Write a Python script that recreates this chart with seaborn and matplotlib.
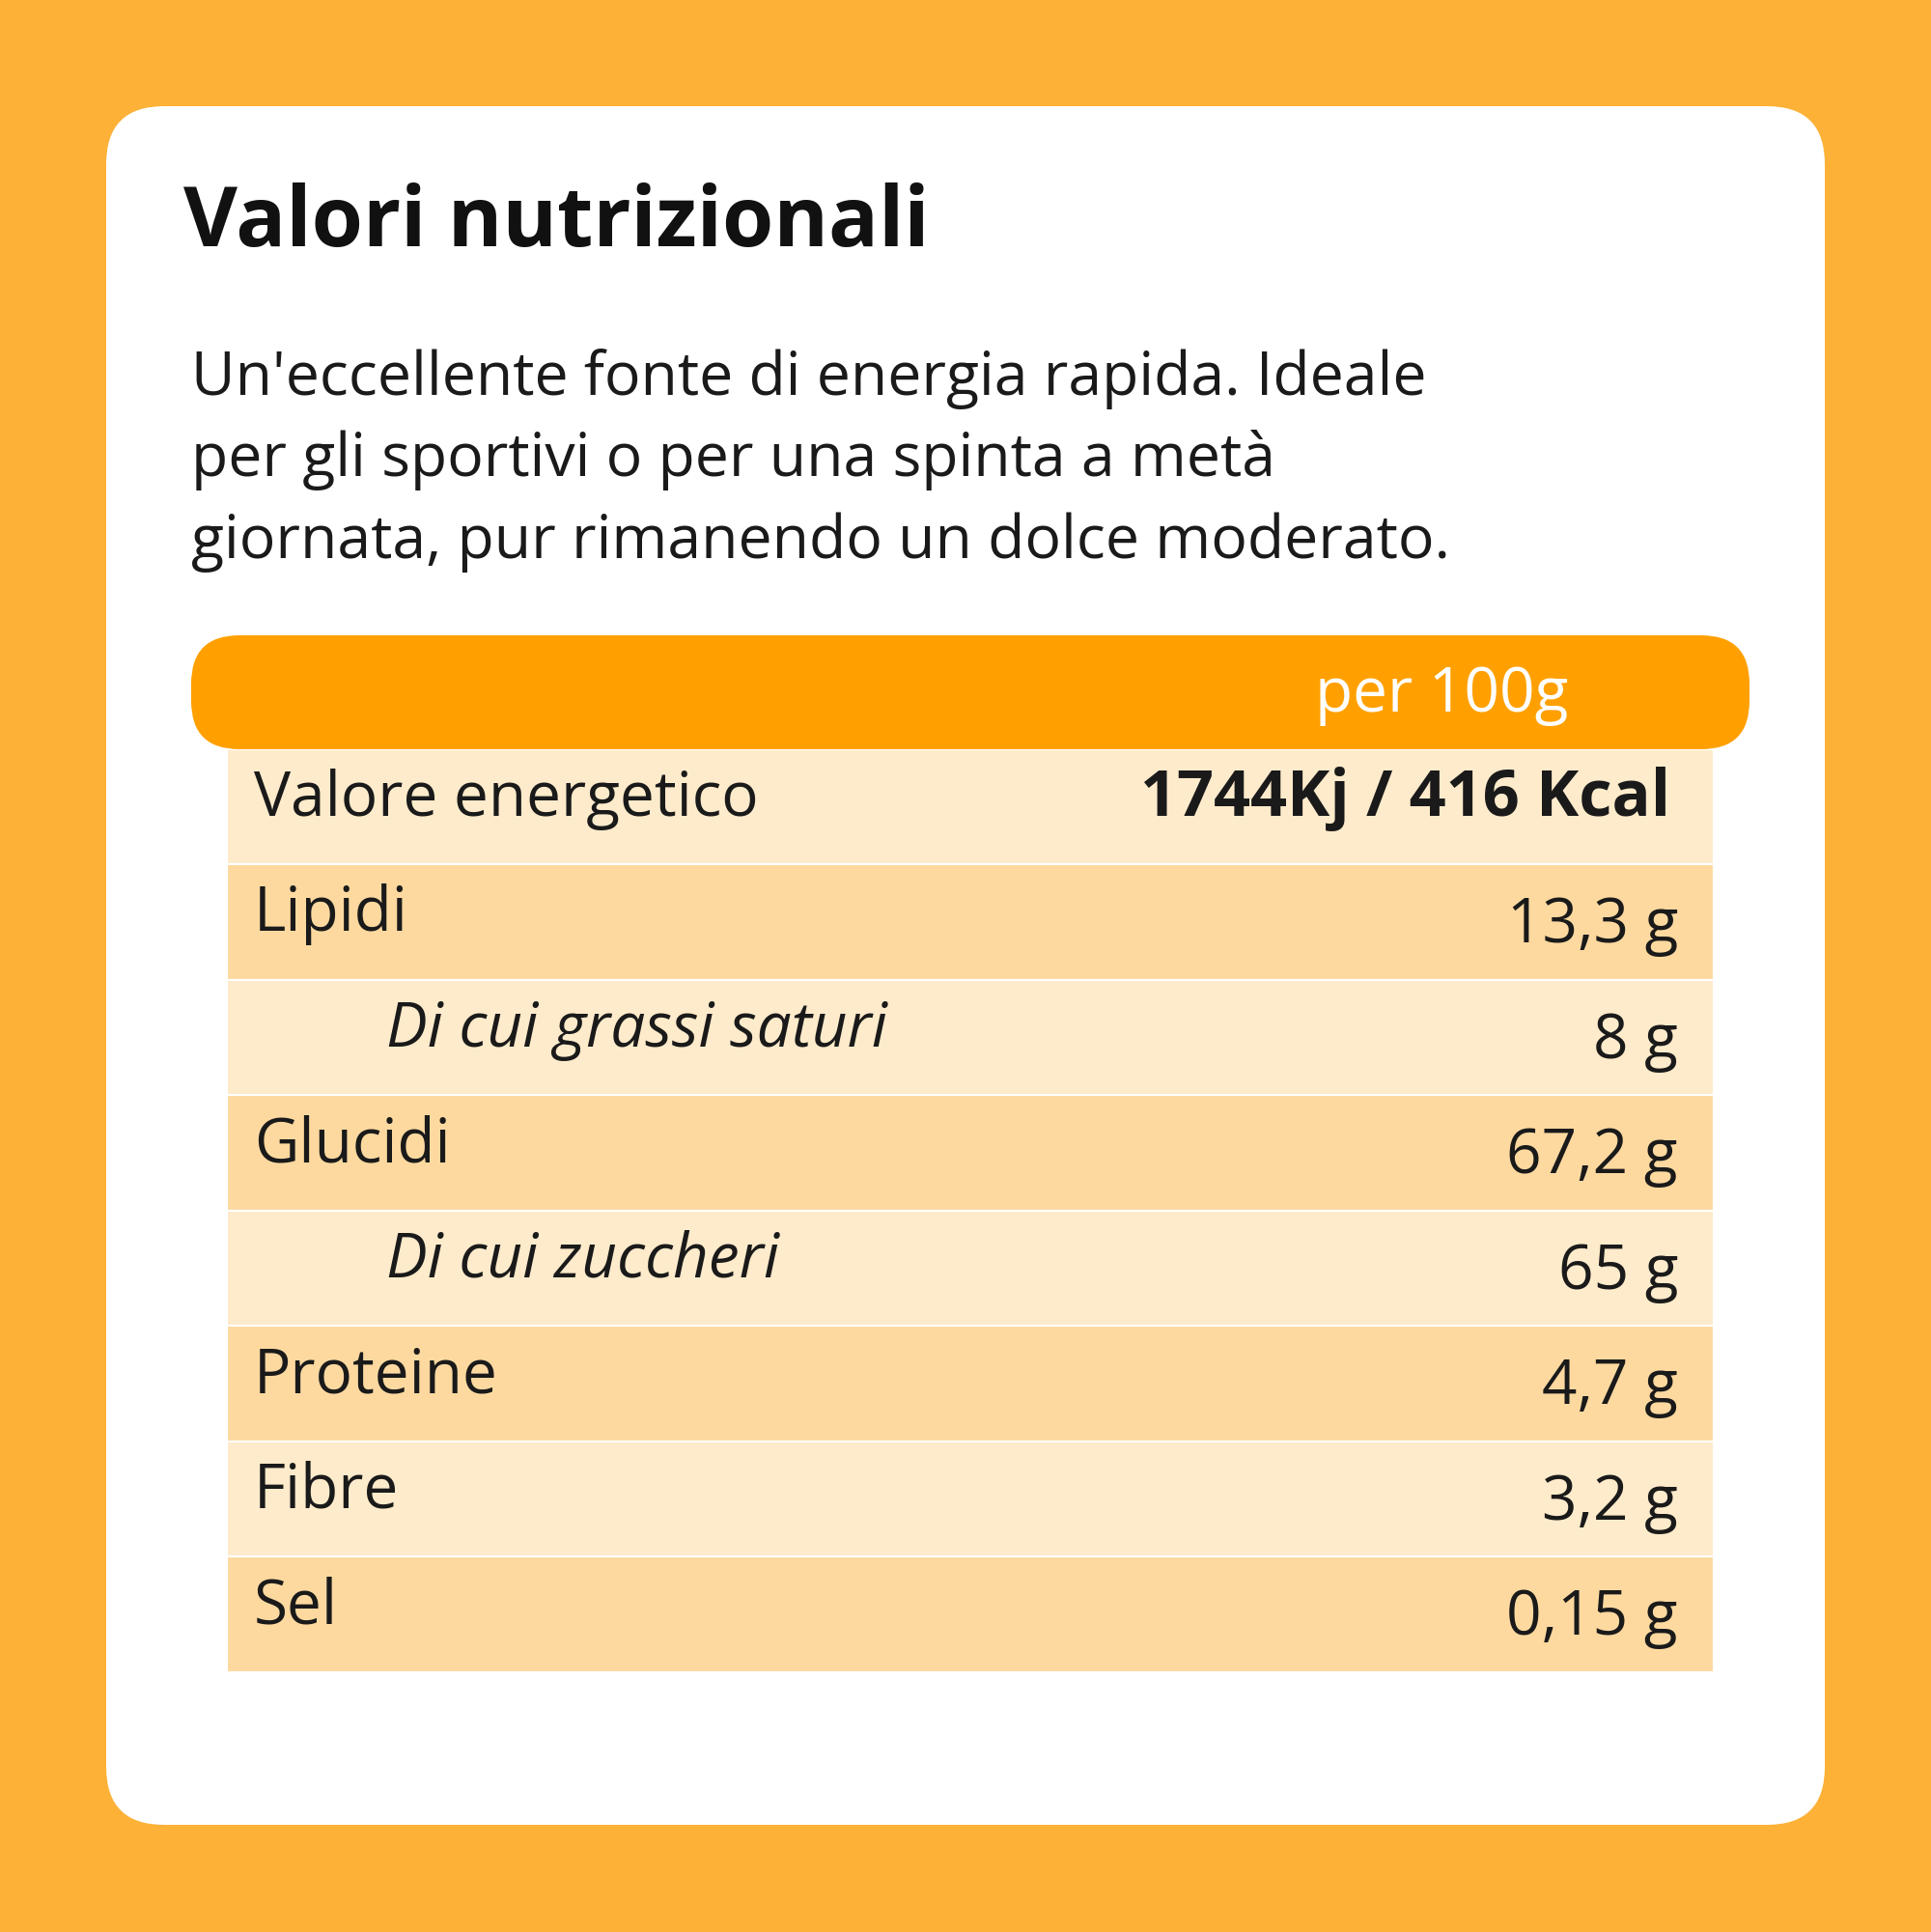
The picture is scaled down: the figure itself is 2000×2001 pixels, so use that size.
import matplotlib
matplotlib.use('Agg')
import matplotlib.pyplot as plt
from matplotlib.patches import FancyBboxPatch
import seaborn as sns

sns.set_theme(style='white')
plt.rcParams['font.family'] = ['Open Sans', 'DejaVu Sans']

title = 'Valori nutrizionali'
intro = ["Un'eccellente fonte di energia rapida. Ideale",
         "per gli sportivi o per una spinta a metà",
         "giornata, pur rimanendo un dolce moderato."]
header = 'per 100g'
labels = ['Valore energetico', 'Lipidi', 'Di cui grassi saturi', 'Glucidi',
          'Di cui zuccheri', 'Proteine', 'Fibre', 'Sel']
values = ['1744Kj / 416 Kcal', '13,3 g', '8 g', '67,2 g', '65 g', '4,7 g', '3,2 g', '0,15 g']
sub_rows = [2, 4]

fig = plt.figure(figsize=(20, 20.01), dpi=100)
fig.patch.set_facecolor('#FDB137')
ax = fig.add_axes([0, 0, 1, 1])
ax.set_xlim(0, 2000)
ax.set_ylim(2001, 0)
ax.axis('off')

# white card
ax.add_patch(FancyBboxPatch((170, 170), 1660, 1660, boxstyle='round,pad=0,rounding_size=0',
                            fc='white', ec='none'))
ax.add_patch(FancyBboxPatch((170, 170), 1660, 1660, boxstyle='round,pad=60',
                            fc='white', ec='none'))

ax.text(190, 232, title, fontsize=62, fontweight='bold', va='center', ha='left', color='#111111')
for i, line in enumerate(intro):
    ax.text(198, 392 + i * 85, line, fontsize=45, va='center', ha='left', color='#1a1a1a')

# row stripes
row_h = 119.5
top = 776
colors = ['#FEEBCB' if i % 2 == 0 else '#FDD9A0' for i in range(len(labels))]
ax.barh([top + row_h * (i + 0.5) for i in range(len(labels))], 1540, height=row_h,
        left=235, color=colors, edgecolor='white', linewidth=1.5)

# header bar
ax.add_patch(FancyBboxPatch((248, 708), 1514, 18, boxstyle='round,pad=50',
                            fc='#FFA000', ec='none'))
ax.text(1493, 720, header, fontsize=46, color='white', va='center', ha='center')

for i, (lab, val) in enumerate(zip(labels, values)):
    y = top + row_h * (i + 0.5)
    sub = i in sub_rows
    ax.text(400 if sub else 263, y - 8, lab, fontsize=46, va='center', ha='left',
            style='italic' if sub else 'normal', color='#1a1a1a')
    ax.text(1738 if i > 0 else 1730, y + (4 if i > 0 else -8), val, fontsize=46 if i > 0 else 48,
            va='center', ha='right', fontweight='bold' if i == 0 else 'normal', color='#1a1a1a')

fig.savefig('out.png', dpi=100, facecolor=fig.get_facecolor())
